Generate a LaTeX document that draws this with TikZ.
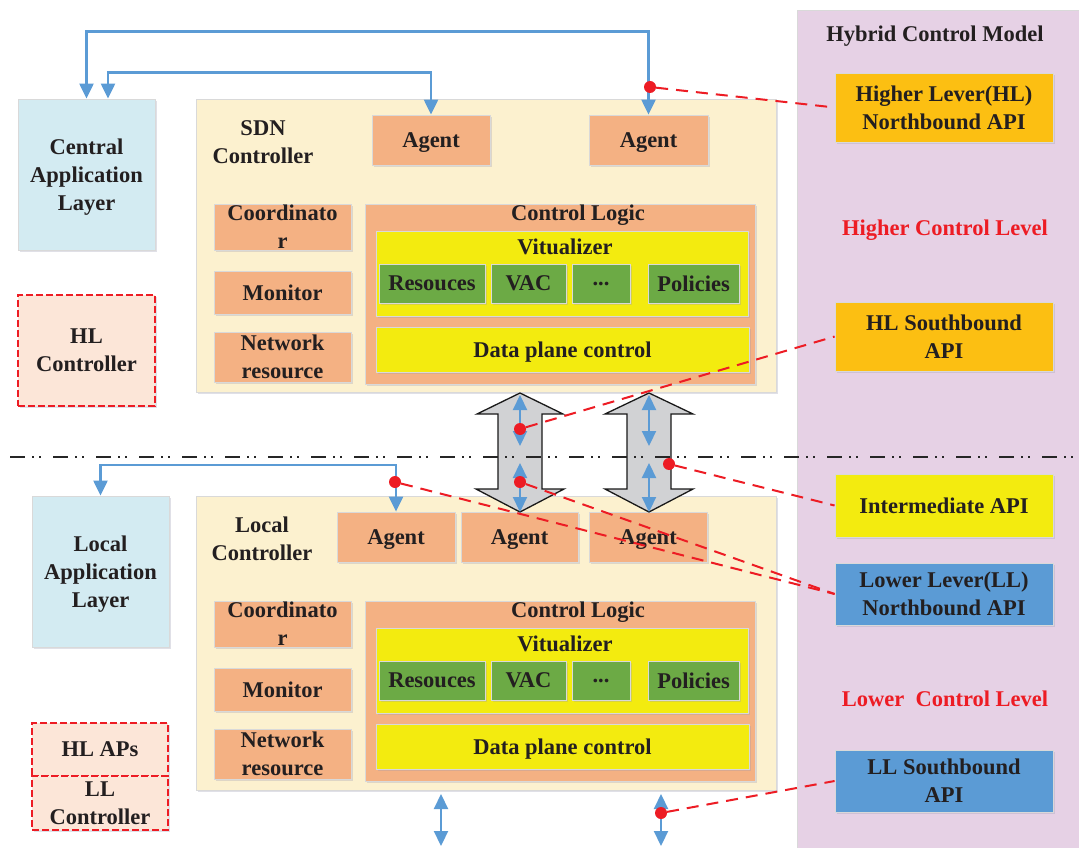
\documentclass[tikz,border=0pt]{standalone}
\usepackage{fontspec}
\setmainfont{Liberation Serif}
\usetikzlibrary{arrows.meta,shadows}
\definecolor{pinkp}{HTML}{E6D1E5}
\definecolor{cream}{HTML}{FCF1CF}
\definecolor{agent}{HTML}{F4B183}
\definecolor{lblue}{HTML}{D3EBF2}
\definecolor{peach}{HTML}{FCE6D8}
\definecolor{yel}{HTML}{F3EB0F}
\definecolor{grn}{HTML}{6CAA45}
\definecolor{gold}{HTML}{FCBF12}
\definecolor{mblue}{HTML}{5B9BD5}
\definecolor{txt}{HTML}{231F20}
\definecolor{rd}{HTML}{ED1C24}
\definecolor{agray}{HTML}{D1D2D4}
\newcommand\myfont{\fontsize{22.5}{28}\selectfont\bfseries}
\begin{document}
\begin{tikzpicture}[x=1pt,y=-1pt,
  sz/.style 2 args={minimum width=#1pt, minimum height=#2pt},
  box/.style={draw=black!15, line width=0.8pt, inner sep=0pt, align=center, font=\myfont, text=txt, text depth=0pt,
    drop shadow={shadow xshift=1.5pt, shadow yshift=-2pt, opacity=0.3, fill=blue!25!black!40}},
  plain/.style={draw=black!15, line width=0.8pt, inner sep=0pt},
  lbl/.style={inner sep=0pt, align=center, font=\myfont, text=txt},
  redlbl/.style={inner sep=0pt, align=center, font=\myfont, text=rd},
  ctrlbox/.style={box, draw=rd, dashed, dash pattern=on 7pt off 3pt, line width=1.2pt, fill=peach},
  bl/.style={draw=mblue, line width=2.2pt, {Triangle[length=15pt,width=14pt]}-{Triangle[length=15pt,width=14pt]}},
  blockarrow/.style={draw=black!90, fill=agray, line width=1.3pt, line join=miter},
  reddash/.style={draw=rd, line width=2pt, dash pattern=on 12pt off 8pt},
  dot/.style={circle, fill=rd, inner sep=0pt, minimum size=12pt},
  dashdot/.style={draw=black!85, line width=2pt, dash pattern=on 15pt off 7pt on 2pt off 5pt on 2pt off 12pt}
]
\useasboundingbox (0,0) rectangle (1079,848);
\fill[white] (0,0) rectangle (1079,848);

% ---------- right panel ----------
\node[plain, fill=pinkp, sz={290}{848}] (hcm) at (942,434) {};
\node[lbl] (hcmt) at (935,36) {Hybrid Control Model};
\node[box, fill=gold, sz={218}{69}] (hlnb) at (944,107.5) {Higher Lever(HL)\\Northbound API};
\node[redlbl] (hcl) at (945,230) {Higher Control Level};
\node[box, fill=gold, sz={218}{69}] (hlsb) at (944,336.5) {HL Southbound\\API};
\node[box, fill=yel, sz={218}{63}] (iapi) at (944,505.5) {Intermediate API};
\node[box, fill=mblue, sz={218}{62}] (llnb) at (944,594) {Lower Lever(LL)\\Northbound API};
\node[redlbl] (lcl) at (945,699) {Lower\ \ Control Level};
\node[box, fill=mblue, sz={218}{62}] (llsb) at (944,781) {LL Southbound\\API};

% ---------- left column ----------
\node[box, fill=lblue, sz={137}{151}] (cal) at (86.5,174.5) {Central\\Application\\Layer};
\node[ctrlbox, sz={137}{111}] (hlc) at (86.5,350.5) {HL\\Controller};
\node[box, fill=lblue, sz={137}{151}] (lal) at (100.5,571.5) {Local\\Application\\Layer};
\node[ctrlbox, sz={136}{53}] (hlap) at (100,749.5) {HL APs};
\node[ctrlbox, sz={136}{54}] (llc) at (100,803) {LL\\Controller};

% ---------- upper SDN controller ----------
\node[box, fill=cream, sz={580}{293}] (sdn) at (486,245.5) {};
\node[lbl] (sdnt) at (263,142) {SDN\\Controller};
\node[box, fill=agent, sz={118}{50}] (agh1) at (431,140) {Agent};
\node[box, fill=agent, sz={119}{50}] (agh2) at (648.5,140) {Agent};
\node[box, fill=agent, sz={137}{46}] (coh) at (282.5,227) {Coordinato\\r};
\node[box, fill=agent, sz={137}{43}] (moh) at (282.5,292.5) {Monitor};
\node[box, fill=agent, sz={137}{50}] (nrh) at (282.5,357) {Network\\resource};
\node[box, fill=agent, sz={390}{180}] (clh) at (560,294) {};
\node[lbl] (clht) at (578,215) {Control Logic};
\node[box, fill=yel, sz={372}{85}] (vih) at (562,273.5) {};
\node[lbl] (viht) at (565,247) {Vitualizer};
\node[box, fill=grn, sz={106}{39}] (reh) at (432,283.5) {Resouces};
\node[box, fill=grn, sz={75}{39}] (vah) at (528.5,283.5) {VAC};
\node[box, fill=grn, sz={58}{39}] (ddh) at (601,283.5) {...};
\node[box, fill=grn, sz={91}{39}] (poh) at (693.5,283.5) {Policies};
\node[box, fill=yel, sz={373}{45}] (dph) at (562.5,349.5) {Data plane control};

% ---------- lower local controller ----------
\node[box, fill=cream, sz={580}{294}] (loc) at (486,643) {};
\node[lbl] (loct) at (262,539) {Local\\Controller};
\node[box, fill=agent, sz={118}{50}] (agl1) at (396,537) {Agent};
\node[box, fill=agent, sz={117}{50}] (agl2) at (519.5,537) {Agent};
\node[box, fill=agent, sz={118}{50}] (agl3) at (648,537) {Agent};
\node[box, fill=agent, sz={137}{46}] (col) at (282.5,624) {Coordinato\\r};
\node[box, fill=agent, sz={137}{43}] (mol) at (282.5,689.5) {Monitor};
\node[box, fill=agent, sz={137}{50}] (nrl) at (282.5,754) {Network\\resource};
\node[box, fill=agent, sz={390}{180}] (cll) at (560,691) {};
\node[lbl] (cllt) at (578,612) {Control Logic};
\node[box, fill=yel, sz={372}{85}] (vil) at (562,670.5) {};
\node[lbl] (vilt) at (565,644) {Vitualizer};
\node[box, fill=grn, sz={106}{39}] (rel) at (432,680.5) {Resouces};
\node[box, fill=grn, sz={75}{39}] (val) at (528.5,680.5) {VAC};
\node[box, fill=grn, sz={58}{39}] (ddl) at (601,680.5) {...};
\node[box, fill=grn, sz={91}{39}] (pol) at (693.5,680.5) {Policies};
\node[box, fill=yel, sz={373}{45}] (dpl) at (562.5,746.5) {Data plane control};

% ---------- block double arrows ----------
\draw[blockarrow] (520,393) -- (563,414) -- (542,414) -- (542,489) -- (564,489) -- (520,512)
  -- (476,489) -- (498,489) -- (498,414) -- (477,414) -- cycle;
\draw[blockarrow] (649,393) -- (693,414) -- (671,414) -- (671,489) -- (693,489) -- (649,512)
  -- (605,489) -- (627,489) -- (627,414) -- (605,414) -- cycle;

% ---------- divider ----------
\coordinate (dl) at (10,457);
\coordinate (dr) at (1079,457);
\draw[dashdot] (dl) -- (dr);

% ---------- blue connectors ----------
\draw[bl] (agh2.north) -- ++(0,-83) -| (cal.north);
\draw[bl] (agh1.north) -- ++(0,-42) -| ([xshift=21.5pt]cal.north);
\draw[bl] (agl1.north) -- ++(0,-47) -| (lal.north);

\coordinate (a1a) at (520,395); \coordinate (a1b) at (520,446);
\coordinate (a1c) at (520,463); \coordinate (a1d) at (520,512);
\coordinate (a2a) at (649,395); \coordinate (a2b) at (649,446);
\coordinate (a2c) at (649,463); \coordinate (a2d) at (649,512);
\draw[bl] (a1a) -- (a1b);
\draw[bl] (a1c) -- (a1d);
\draw[bl] (a2a) -- (a2b);
\draw[bl] (a2c) -- (a2d);
\coordinate (b1a) at (441,794); \coordinate (b1b) at (441,846);
\coordinate (b2a) at (661,794); \coordinate (b2b) at (661,846);
\draw[bl] (b1a) -- (b1b);
\draw[bl] (b2a) -- (b2b);

% ---------- red dots and dashed links ----------
\node[dot] (d1) at (650,87) {};
\node[dot] (d2) at (520,429) {};
\node[dot] (d3) at (669,464) {};
\node[dot] (d4) at (395,482) {};
\node[dot] (d5) at (520,482) {};
\node[dot] (d6) at (661,813) {};
\draw[reddash] (d1) -- (hlnb.west);
\draw[reddash] (d2) -- (hlsb.west);
\draw[reddash] (d3) -- (iapi.west);
\draw[reddash] (d4) -- (llnb.west);
\draw[reddash] (d5) -- (llnb.west);
\draw[reddash] (d6) -- (llsb.west);
\end{tikzpicture}
\end{document}
